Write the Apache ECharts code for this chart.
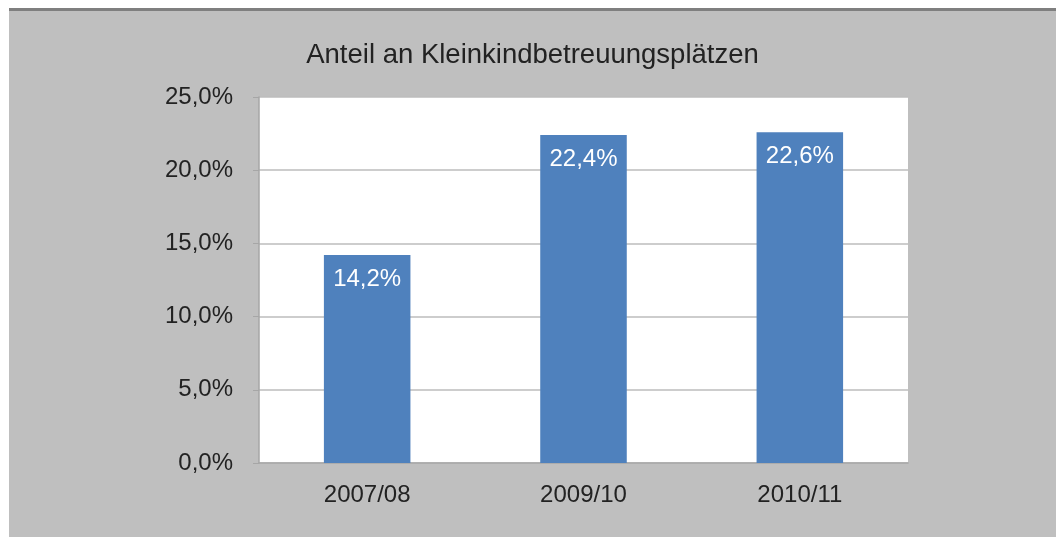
<!DOCTYPE html>
<html>
<head>
<meta charset="utf-8">
<script src="https://cdn.jsdelivr.net/npm/echarts@6/dist/echarts.min.js"></script>
<style>
  html, body { margin: 0; padding: 0; background: #fff; }
  .frame {
    position: absolute;
    left: 9px;
    top: 8px;
    width: 1047px;
    height: 526px;
    border-top: 3px solid #7f7f7f;
    background: #bfbfbf;
  }
  .canvars { width: 1047px; height: 526px; }
</style>
</head>
<body>
<div class="frame"><div class="canvars" id="chart"></div></div>
<script>
// Daten
const categories = ['2007/08', '2009/10', '2010/11'];
const shares = [14.2, 22.4, 22.6];
const yTicks = [0, 5, 10, 15, 20, 25];

const fmt = v => v.toFixed(1).replace('.', ',') + '%';

const myChart = echarts.init(document.getElementById('chart'));
myChart.setOption({
  animation: false,
  textStyle: { fontFamily: 'Liberation Sans, Arial, sans-serif' },
  title: {
    text: 'Anteil an Kleinkindbetreuungsplätzen',
    left: 'center',
    top: 25,
    textStyle: { fontSize: 27.5, fontWeight: 'normal', color: '#222' }
  },
  grid: {
    show: true,
    left: 250,
    top: 86,
    width: 649,
    height: 366,
    backgroundColor: '#fff',
    borderWidth: 0,
    containLabel: false
  },
  xAxis: {
    type: 'category',
    data: categories,
    axisLine: { lineStyle: { color: '#a6a6a6', width: 1.5 } },
    axisTick: { length: 6, lineStyle: { color: '#a6a6a6' } },
    axisLabel: { margin: 20, fontSize: 24, color: '#222' }
  },
  yAxis: {
    type: 'value',
    min: yTicks[0],
    max: yTicks[yTicks.length - 1],
    interval: 5,
    axisLine: { show: true, lineStyle: { color: '#a6a6a6', width: 1.5 } },
    axisTick: { show: true, length: 6, lineStyle: { color: '#a6a6a6' } },
    splitLine: { lineStyle: { color: '#bdbdbd', width: 1.5 } },
    axisLabel: { margin: 26, fontSize: 24, color: '#222', formatter: fmt }
  },
  series: [{
    type: 'bar',
    data: shares,
    barWidth: '40%',
    itemStyle: { color: '#4f81bd' },
    label: {
      show: true,
      position: 'insideTop',
      distance: 12,
      fontSize: 24,
      color: '#fff',
      formatter: p => fmt(p.value)
    }
  }]
});
</script>
</body>
</html>
